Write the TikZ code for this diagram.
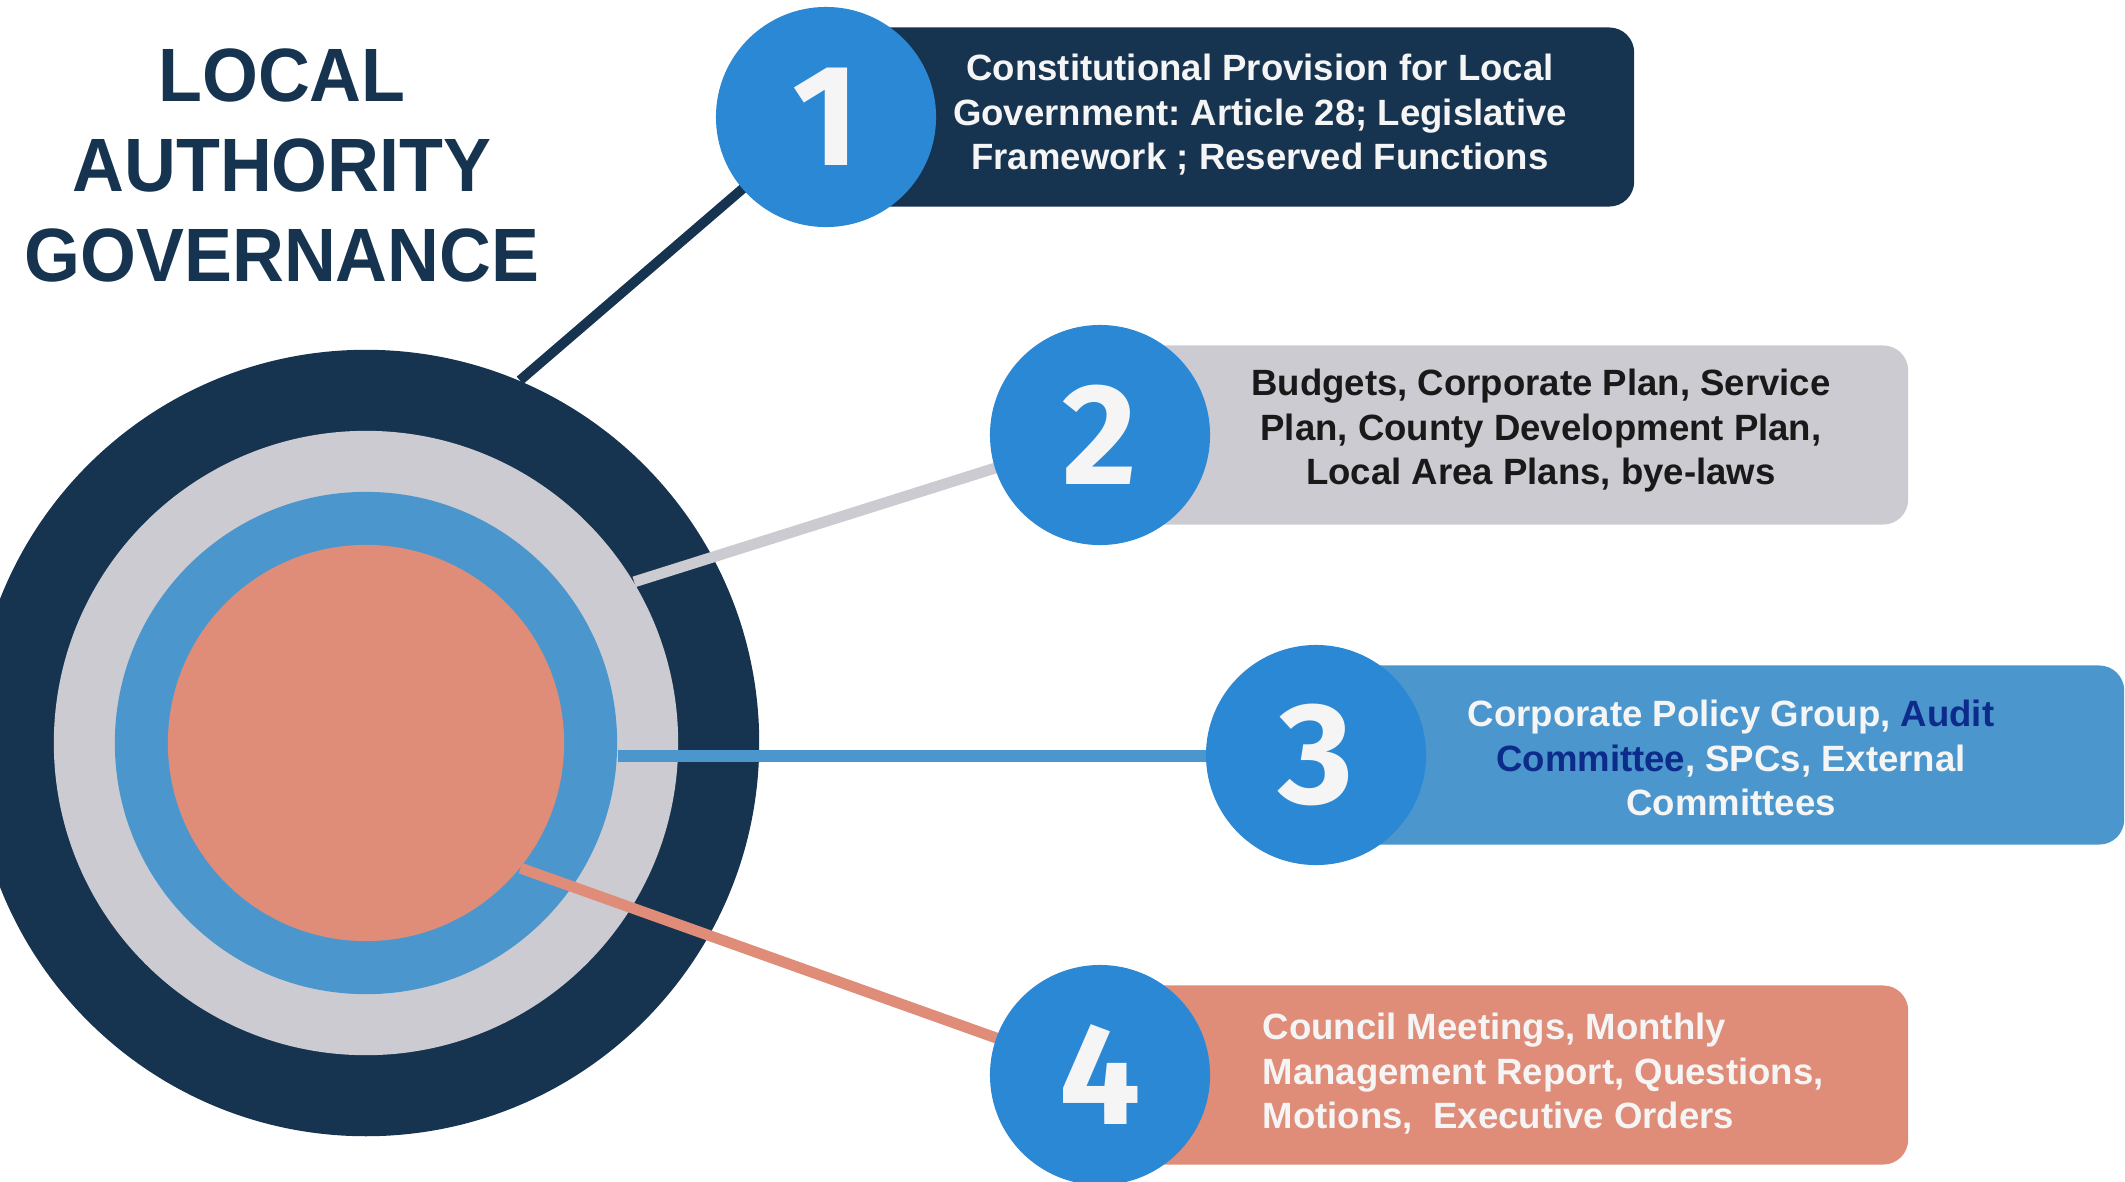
\documentclass[tikz,border=0pt]{standalone}
\usepackage{fontspec}
\setmainfont{Liberation Sans}
\newfontfamily\titlefont{Liberation Sans}[FakeStretch=0.95]
\newfontfamily\numfont{Fira Sans}
\usetikzlibrary{calc,positioning}
\definecolor{navyd}{HTML}{163350}
\definecolor{greyl}{HTML}{CCCBD1}
\definecolor{bluer}{HTML}{4B97CD}
\definecolor{salmon}{HTML}{DF8C79}
\definecolor{blueb}{HTML}{2B88D4}
\definecolor{auditb}{HTML}{0D2B8A}
\definecolor{offw}{HTML}{F5F5F5}
\frenchspacing

\begin{document}
\begin{tikzpicture}[x=0.01cm,y=-0.01cm,
    ring/.style={circle,inner sep=0pt,minimum size=#1},
    badge/.style={circle,fill=blueb,inner sep=0pt,minimum size=2.2cm,text=offw,
        font=\numfont\fontsize{41}{41}\selectfont\bfseries},
    panel/.style={rounded corners=0.25cm,minimum width=8.07cm,minimum height=1.79cm,
        anchor=west,inner sep=0pt},
    txt/.style={font=\fontsize{10.4}{12.66}\selectfont\bfseries,align=center,inner sep=0pt},
    link/.style={line width=3.1pt}]

    \useasboundingbox (0,0) rectangle (2125,1181);
    \clip (0,0) rectangle (2125,1181);

    \node[font=\titlefont\fontsize{21.5}{25.6}\selectfont\bfseries,text=navyd,align=center]
        (title) at (282,165) {LOCAL\\AUTHORITY\\GOVERNANCE};

    % target rings
    \node[ring=7.86cm,fill=navyd] (outer) at (366,743) {};
    \node[ring=6.24cm,fill=greyl] (mid) at (outer) {};
    \node[ring=5.02cm,fill=bluer] (inner) at (outer) {};
    \node[ring=3.96cm,fill=salmon] (core) at (outer) {};

    \coordinate (p1) at (826,117);
    \coordinate (p2) at (1100,435);
    \coordinate (p3) at (1316,755);
    \coordinate (p4) at (1100,1075);

    \draw[link,navyd,line width=2.8pt] (outer.67.5) -- (p1);
    \draw[link,greyl] (mid.31) -- (p2);
    \draw[link,bluer,line width=3.4pt] (inner.-3.2) -- (inner.-3.2 -| p3);
    \draw[link,salmon] (core.-39) -- (p4);

    \node[panel,fill=navyd] (b1) at (p1) {};
    \node[panel,fill=greyl] (b2) at (p2) {};
    \node[panel,fill=bluer] (b3) at (p3) {};
    \node[panel,fill=salmon] (b4) at (p4) {};

    \node[txt,text=offw] (t1) at (1260,115)
        {Constitutional Provision for Local\\Government: Article 28; Legislative\\Framework ; Reserved Functions};
    \node[txt,text=black!90] (t2) at (1541,431)
        {Budgets, Corporate Plan, Service\\Plan, County Development Plan,\\Local Area Plans, bye-laws};
    \node[txt,text=offw] (t3) at (1731,758)
        {Corporate Policy Group, \textcolor{auditb}{Audit}\\\textcolor{auditb}{Committee}, SPCs, External\\Committees};
    \node[txt,text=offw,align=left,anchor=west] (t4) at (1262,1074)
        {Council Meetings, Monthly\\Management Report, Questions,\\Motions,\ \ Executive Orders};

    \node[badge] (n1) at (p1) {1};
    \node[badge] (n2) at (p2) {2};
    \node[badge] (n3) at (p3) {3};
    \node[badge] (n4) at (p4) {4};

\end{tikzpicture}
\end{document}
